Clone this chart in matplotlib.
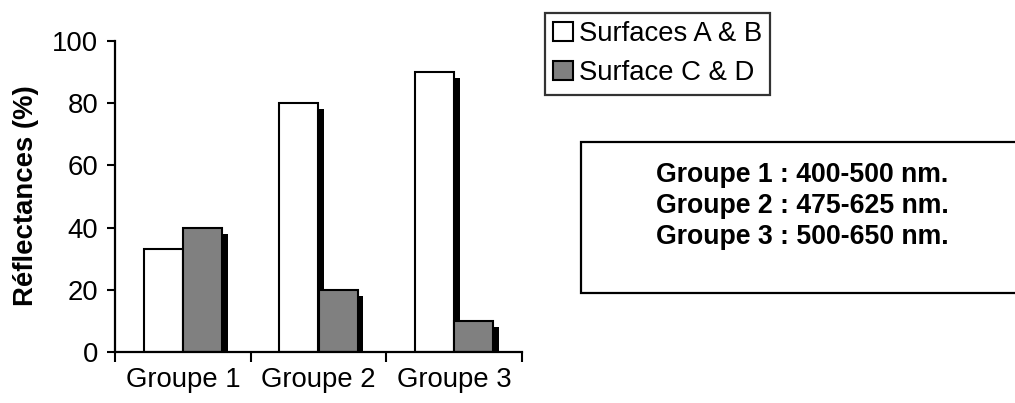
import matplotlib
matplotlib.use("Agg")
import matplotlib.pyplot as plt
from matplotlib.patches import Rectangle
import numpy as np

# Data
groups = ["Groupe 1", "Groupe 2", "Groupe 3"]
surfaces_ab = [33, 80, 90]
surfaces_cd = [40, 20, 10]
series_labels = ["Surfaces A & B", "Surface C & D"]
ranges_text = ["Groupe 1 : 400-500 nm.", "Groupe 2 : 475-625 nm.", "Groupe 3 : 500-650 nm."]
y_ticks = [0, 20, 40, 60, 80, 100]

plt.rcParams["font.family"] = ["Liberation Sans", "DejaVu Sans"]
FS = 19.8

W, H = 1015, 403
fig = plt.figure(figsize=(W / 100, H / 100), dpi=100)
ax = fig.add_axes([115 / W, 1 - 352 / H, (522 - 115) / W, (352 - 41) / H])

x = np.arange(len(groups))
bw = 0.2875
sdx, sdy = 0.044, 1.9  # drop-shadow offset (x in group units, y in %)

# shadows
for xs, vals in ((x - bw / 2, surfaces_ab), (x + bw / 2, surfaces_cd)):
    ax.bar(xs + sdx, np.array(vals) - sdy, width=bw, color="black",
           edgecolor="none", zorder=1)

b1 = ax.bar(x - bw / 2, surfaces_ab, width=bw, color="white",
            edgecolor="black", linewidth=1.5, zorder=2, label=series_labels[0])
b2 = ax.bar(x + bw / 2, surfaces_cd, width=bw, color="#808080",
            edgecolor="black", linewidth=1.5, zorder=2, label=series_labels[1])

ax.set_xlim(-0.5, len(groups) - 0.5)
ax.set_ylim(0, 100)
ax.set_yticks(y_ticks)
ax.tick_params(axis="y", labelsize=FS, length=6, width=1.5, pad=6, direction="out")

ax.set_xticks(x)
ax.set_xticklabels(groups)
ax.tick_params(axis="x", which="major", length=0, labelsize=FS, pad=11)
ax.set_xticks(np.arange(len(groups) + 1) - 0.5, minor=True)
ax.tick_params(axis="x", which="minor", length=7, width=1.5, direction="out")

for s in ("top", "right"):
    ax.spines[s].set_visible(False)
for s in ("left", "bottom"):
    ax.spines[s].set_linewidth(1.6)

fig.text(26 / W, 1 - 196 / H, "Réflectances (%)", rotation=90, fontsize=FS,
         fontweight="bold", ha="center", va="center")

leg = fig.legend(handles=[b1, b2], loc="upper left",
                 bbox_to_anchor=(545 / W, 1 - 13 / H), borderaxespad=0,
                 fontsize=FS, frameon=True, fancybox=False, edgecolor="black",
                 handlelength=0.7, handleheight=0.7, handletextpad=0.22,
                 labelspacing=0.48, borderpad=0.3)
leg.get_frame().set_linewidth(1.6)

# wavelength-range note box
box = Rectangle((581 / W, 1 - 293 / H), (W + 20 - 581) / W, (293 - 142) / H,
                transform=fig.transFigure, facecolor="white", edgecolor="black",
                linewidth=1.6, clip_on=False)
fig.patches.append(box)
fig.text(802 / W, 1 - 206 / H, "\n".join(ranges_text), fontsize=19.2,
         fontweight="bold", ha="center", va="center", linespacing=1.27)

fig.savefig("out.png", dpi=100)
